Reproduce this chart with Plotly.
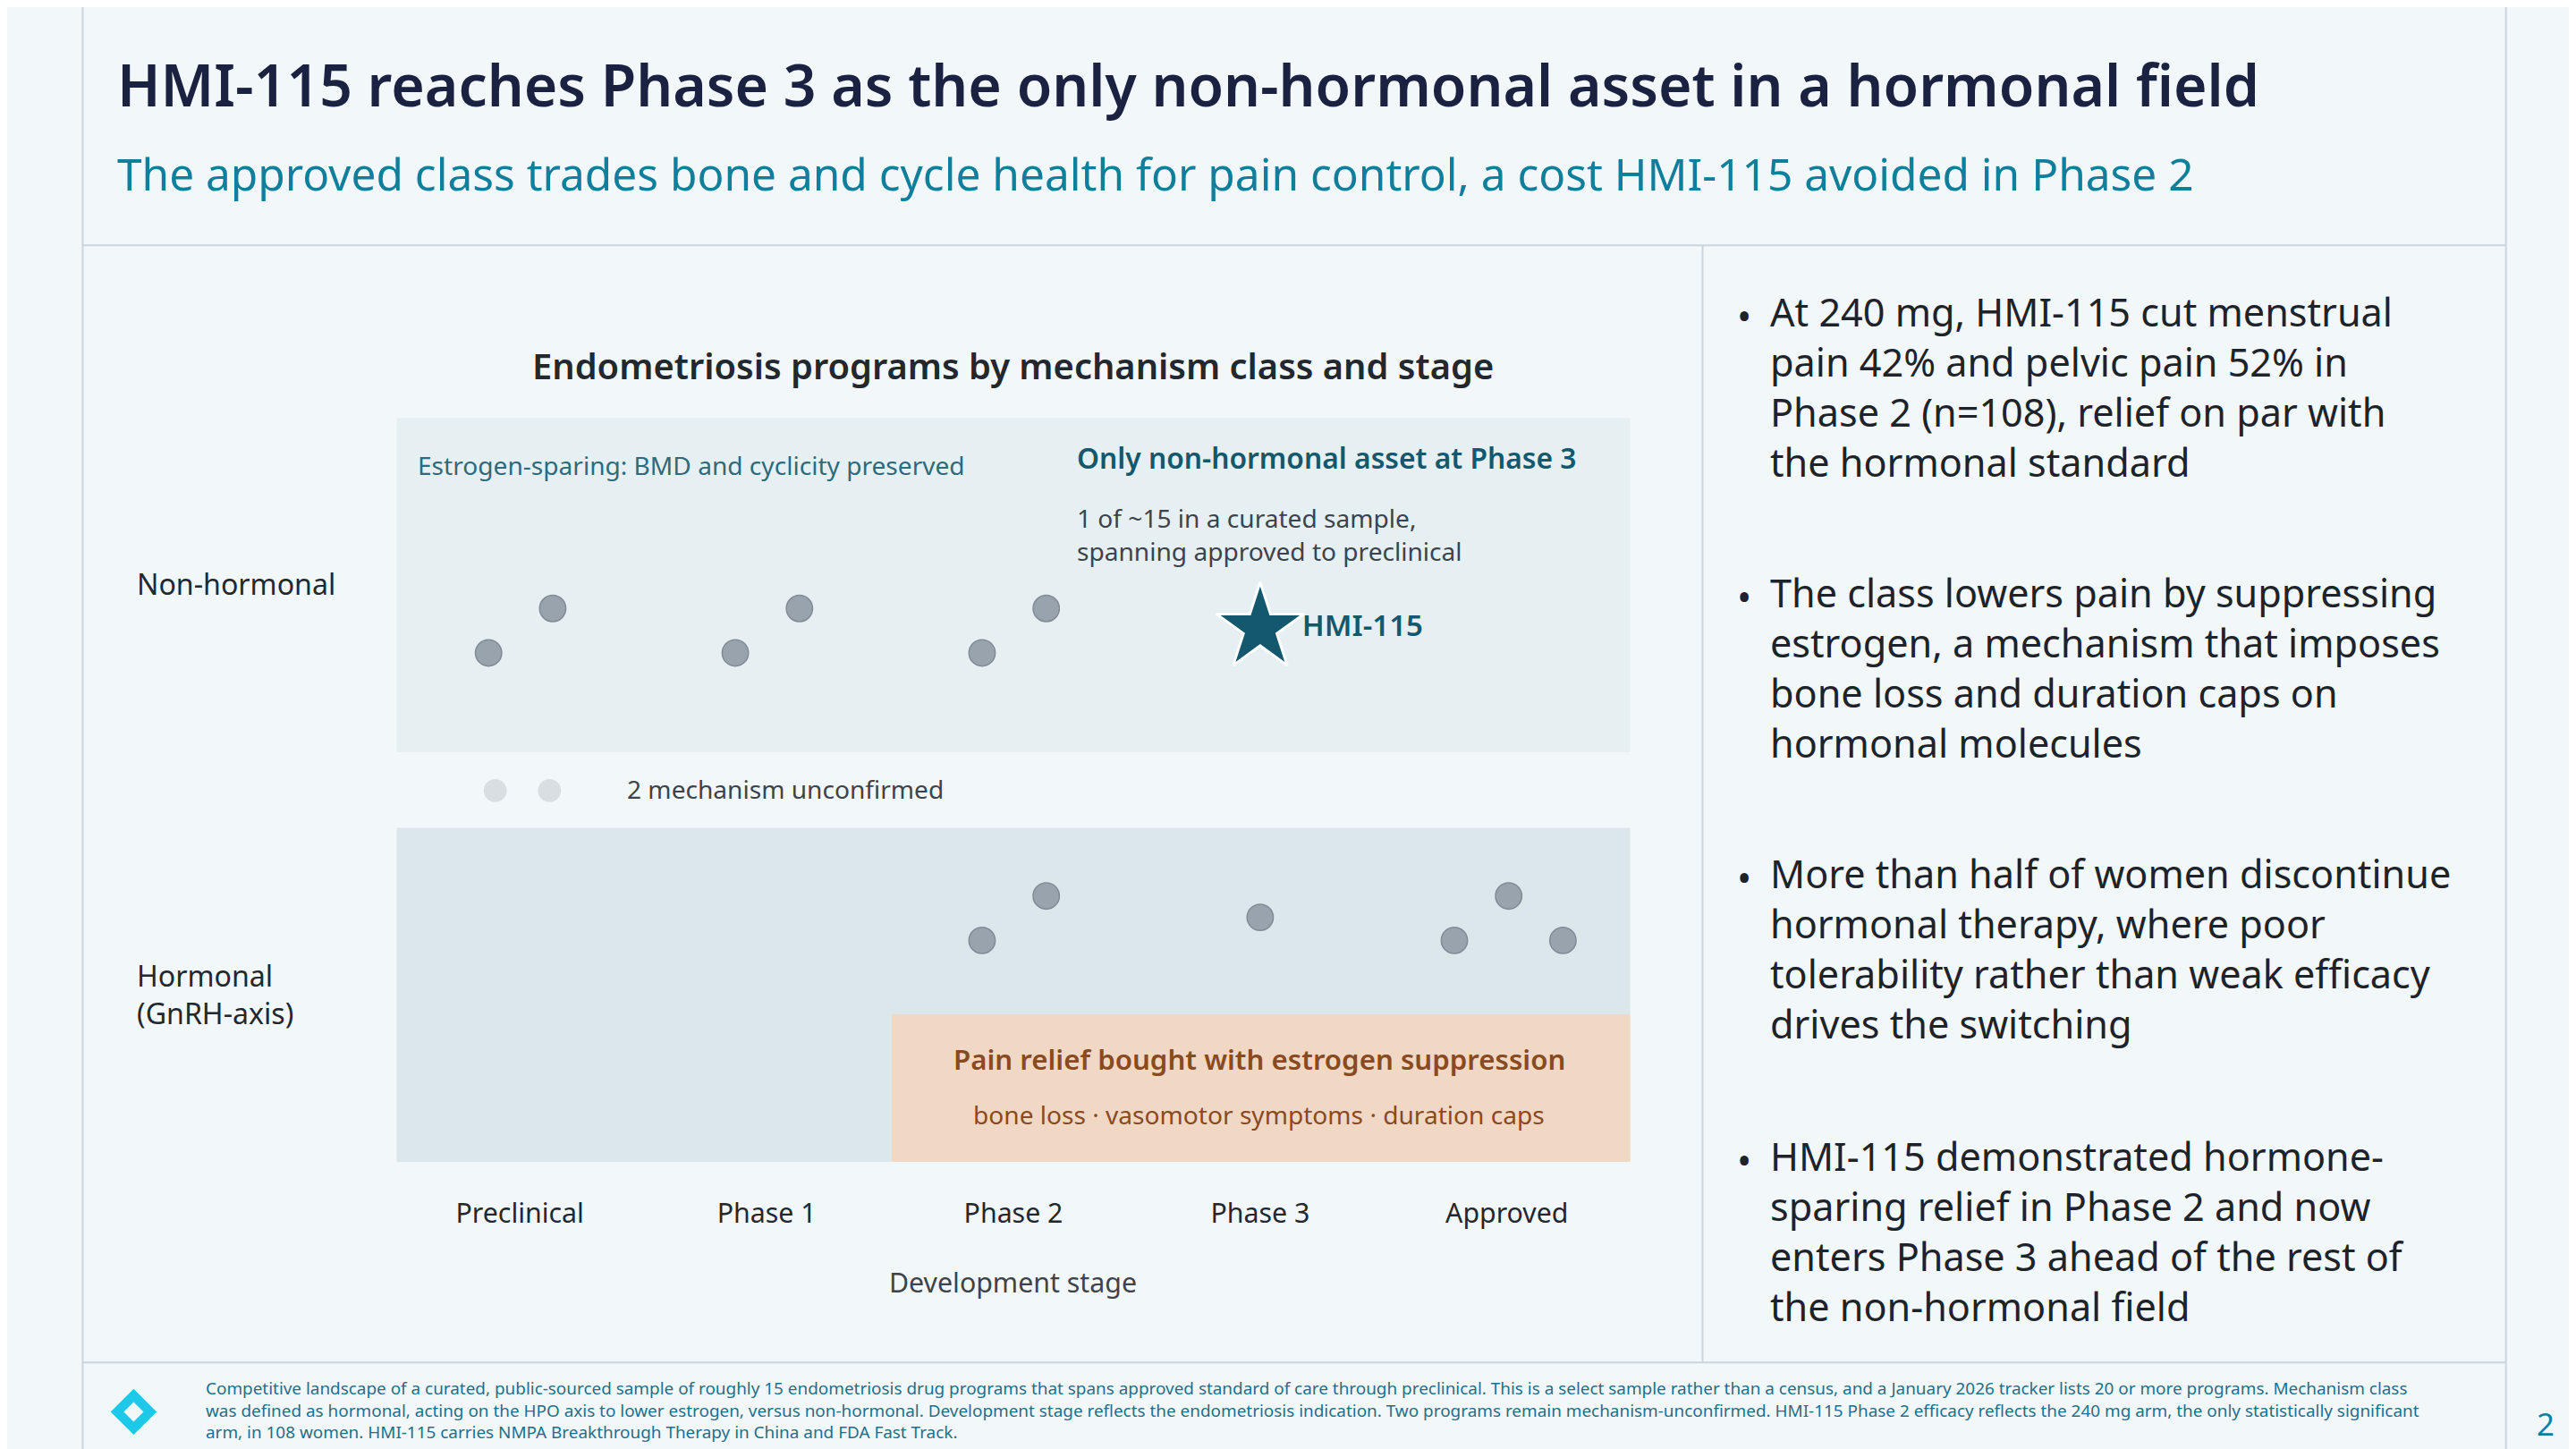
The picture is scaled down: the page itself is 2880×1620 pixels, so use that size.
import plotly.graph_objects as go

W, H = 2880, 1620
S = W / 1568  # reference layout was measured on a 1568-wide view

def px(x):
    return x / 1568

def py(y):
    return 1 - y / 882

def fs(n):
    return n * S

FONT = "Noto Sans"
NAVY = "#1b2140"
TEAL = "#0f7f9c"
DARK_TEAL = "#14586e"
GREY_TXT = "#3d434b"
BG = "#f2f7fa"
LINE = "#c9d6de"

stages = ["Preclinical", "Phase 1", "Phase 2", "Phase 3", "Approved"]

# y units: hormonal band 0..1, non-hormonal band 1.226..2.226
programs = {
    "non_hormonal": {"x": [-0.127, 0.133, 0.873, 1.133, 1.873, 2.133],
                     "y": [1.523, 1.656, 1.523, 1.656, 1.523, 1.656]},
    "hormonal": {"x": [1.873, 2.133, 3.0, 3.787, 4.007, 4.227],
                 "y": [0.663, 0.796, 0.732, 0.663, 0.796, 0.663]},
    "unconfirmed": {"x": [-0.1, 0.12], "y": [1.111, 1.111]},
}
hmi = {"x": [3.0], "y": [1.597]}

fig = go.Figure()

fig.add_trace(go.Scatter(
    x=programs["non_hormonal"]["x"] + programs["hormonal"]["x"],
    y=programs["non_hormonal"]["y"] + programs["hormonal"]["y"],
    mode="markers", hoverinfo="skip",
    marker=dict(size=fs(16), color="#98a3ae", line=dict(color="#808b96", width=1.5))))
fig.add_trace(go.Scatter(
    x=programs["unconfirmed"]["x"], y=programs["unconfirmed"]["y"],
    mode="markers", hoverinfo="skip",
    marker=dict(size=fs(14), color="#d9dee3")))
fig.add_trace(go.Scatter(
    x=hmi["x"], y=hmi["y"], mode="markers+text", text=["HMI-115"],
    textposition="middle right",
    textfont=dict(family=FONT, size=fs(18), color=DARK_TEAL, weight=600),
    marker=dict(symbol="star", size=fs(40), color=DARK_TEAL, line=dict(color="white", width=3))))

shapes = [
    dict(type="rect", xref="x", yref="y", x0=-0.5, x1=4.5, y0=1.226, y1=2.226,
         fillcolor="#e6f0f2", line_width=0, layer="below"),
    dict(type="rect", xref="x", yref="y", x0=-0.5, x1=4.5, y0=0, y1=1,
         fillcolor="#dce7ec", line_width=0, layer="below"),
    dict(type="rect", xref="x", yref="y", x0=1.507, x1=4.5, y0=0, y1=0.442,
         fillcolor="#f0d8c5", line_width=0, layer="below"),
]
for x0, y0, x1, y1 in [(46, 0, 46, 882), (1521, 0, 1521, 882), (46, 145, 1521, 145),
                       (46, 825, 1521, 825), (1032, 145, 1032, 825)]:
    shapes.append(dict(type="line", xref="paper", yref="paper", x0=px(x0), x1=px(x1),
                       y0=py(y0), y1=py(y1), line=dict(color=LINE, width=2)))
# logo diamond
shapes.append(dict(type="path", xref="paper", yref="paper",
                   path="M {} {} L {} {} L {} {} L {} {} Z".format(
                       px(77), py(841), px(91), py(855), px(77), py(869), px(63), py(855)),
                   fillcolor="#1ec8e8", line_width=0))
shapes.append(dict(type="path", xref="paper", yref="paper",
                   path="M {} {} L {} {} L {} {} L {} {} Z".format(
                       px(77), py(849), px(83), py(855), px(77), py(861), px(71), py(855)),
                   fillcolor=BG, line_width=0))

ann = []

def t(x, y, text, size, color, anchor="left", weight="normal"):
    ann.append(dict(xref="paper", yref="paper", x=px(x), y=py(y), text=text,
                    showarrow=False, xanchor=anchor, yanchor="middle", align=anchor,
                    font=dict(family=FONT, size=fs(size), color=color, weight=weight)))

t(66, 47, "HMI-115 reaches Phase 3 as the only non-hormonal asset in a hormonal field", 35, NAVY, weight=600)
t(66, 101, "The approved class trades bone and cycle health for pain control, a cost HMI-115 avoided in Phase 2", 27, TEAL)
t(612, 218, "Endometriosis programs by mechanism class and stage", 21.7, "#23282f", "center", 600)
t(249, 279, "Estrogen-sparing: BMD and cyclicity preserved", 15.3, "#2f6a7a")
t(650, 274, "Only non-hormonal asset at Phase 3", 17.3, DARK_TEAL, weight=600)
t(650, 321, "1 of ~15 in a curated sample,<br>spanning approved to preclinical", 15.3, GREY_TXT)
t(376, 476, "2 mechanism unconfirmed", 15.3, GREY_TXT)
t(762, 640, "Pain relief bought with estrogen suppression", 17, "#8a4a1f", "center", 600)
t(762, 674, "bone loss · vasomotor symptoms · duration caps", 15.3, "#8a4a1f", "center")
t(78, 351, "Non-hormonal", 17.5, "#23282f")
t(78, 601, "Hormonal<br>(GnRH-axis)", 17.5, "#23282f")
t(612, 776, "Development stage", 16.5, GREY_TXT, "center")

bullets = [
    (231, "At 240 mg, HMI-115 cut menstrual<br>pain 42% and pelvic pain 52% in<br>Phase 2 (n=108), relief on par with<br>the hormonal standard"),
    (402, "The class lowers pain by suppressing<br>estrogen, a mechanism that imposes<br>bone loss and duration caps on<br>hormonal molecules"),
    (573, "More than half of women discontinue<br>hormonal therapy, where poor<br>tolerability rather than weak efficacy<br>drives the switching"),
    (745, "HMI-115 demonstrated hormone-<br>sparing relief in Phase 2 and now<br>enters Phase 3 ahead of the rest of<br>the non-hormonal field"),
]
for y, txt in bullets:
    t(1072, y, txt, 23.5, "#1e232a")
    t(1052, y - 43, "•", 23.5, "#1e232a")

t(120, 854, "Competitive landscape of a curated, public-sourced sample of roughly 15 endometriosis drug programs that spans approved standard of care through preclinical. This is a select sample rather than a census, and a January 2026 tracker lists 20 or more programs. Mechanism class<br>"
  "was defined as hormonal, acting on the HPO axis to lower estrogen, versus non-hormonal. Development stage reflects the endometriosis indication. Two programs remain mechanism-unconfirmed. HMI-115 Phase 2 efficacy reflects the 240 mg arm, the only statistically significant<br>"
  "arm, in 108 women. HMI-115 carries NMPA Breakthrough Therapy in China and FDA Fast Track.", 10.3, "#1f6f8b")
t(1545, 862, "2", 19, TEAL, "center")

fig.update_layout(
    width=W, height=H, margin=dict(l=0, r=0, t=0, b=0),
    paper_bgcolor=BG, plot_bgcolor=BG, showlegend=False,
    shapes=shapes, annotations=ann,
    xaxis=dict(domain=[px(237), px(988)], range=[-0.5, 4.5], tickvals=list(range(5)),
               ticktext=stages, showgrid=False, zeroline=False, showline=False,
               ticks="", ticklabelstandoff=int(fs(20)),
               tickfont=dict(family=FONT, size=fs(16.5), color="#23282f")),
    yaxis=dict(domain=[py(703), py(250)], range=[0, 2.226], visible=False),
)

fig.write_html("out.html")
